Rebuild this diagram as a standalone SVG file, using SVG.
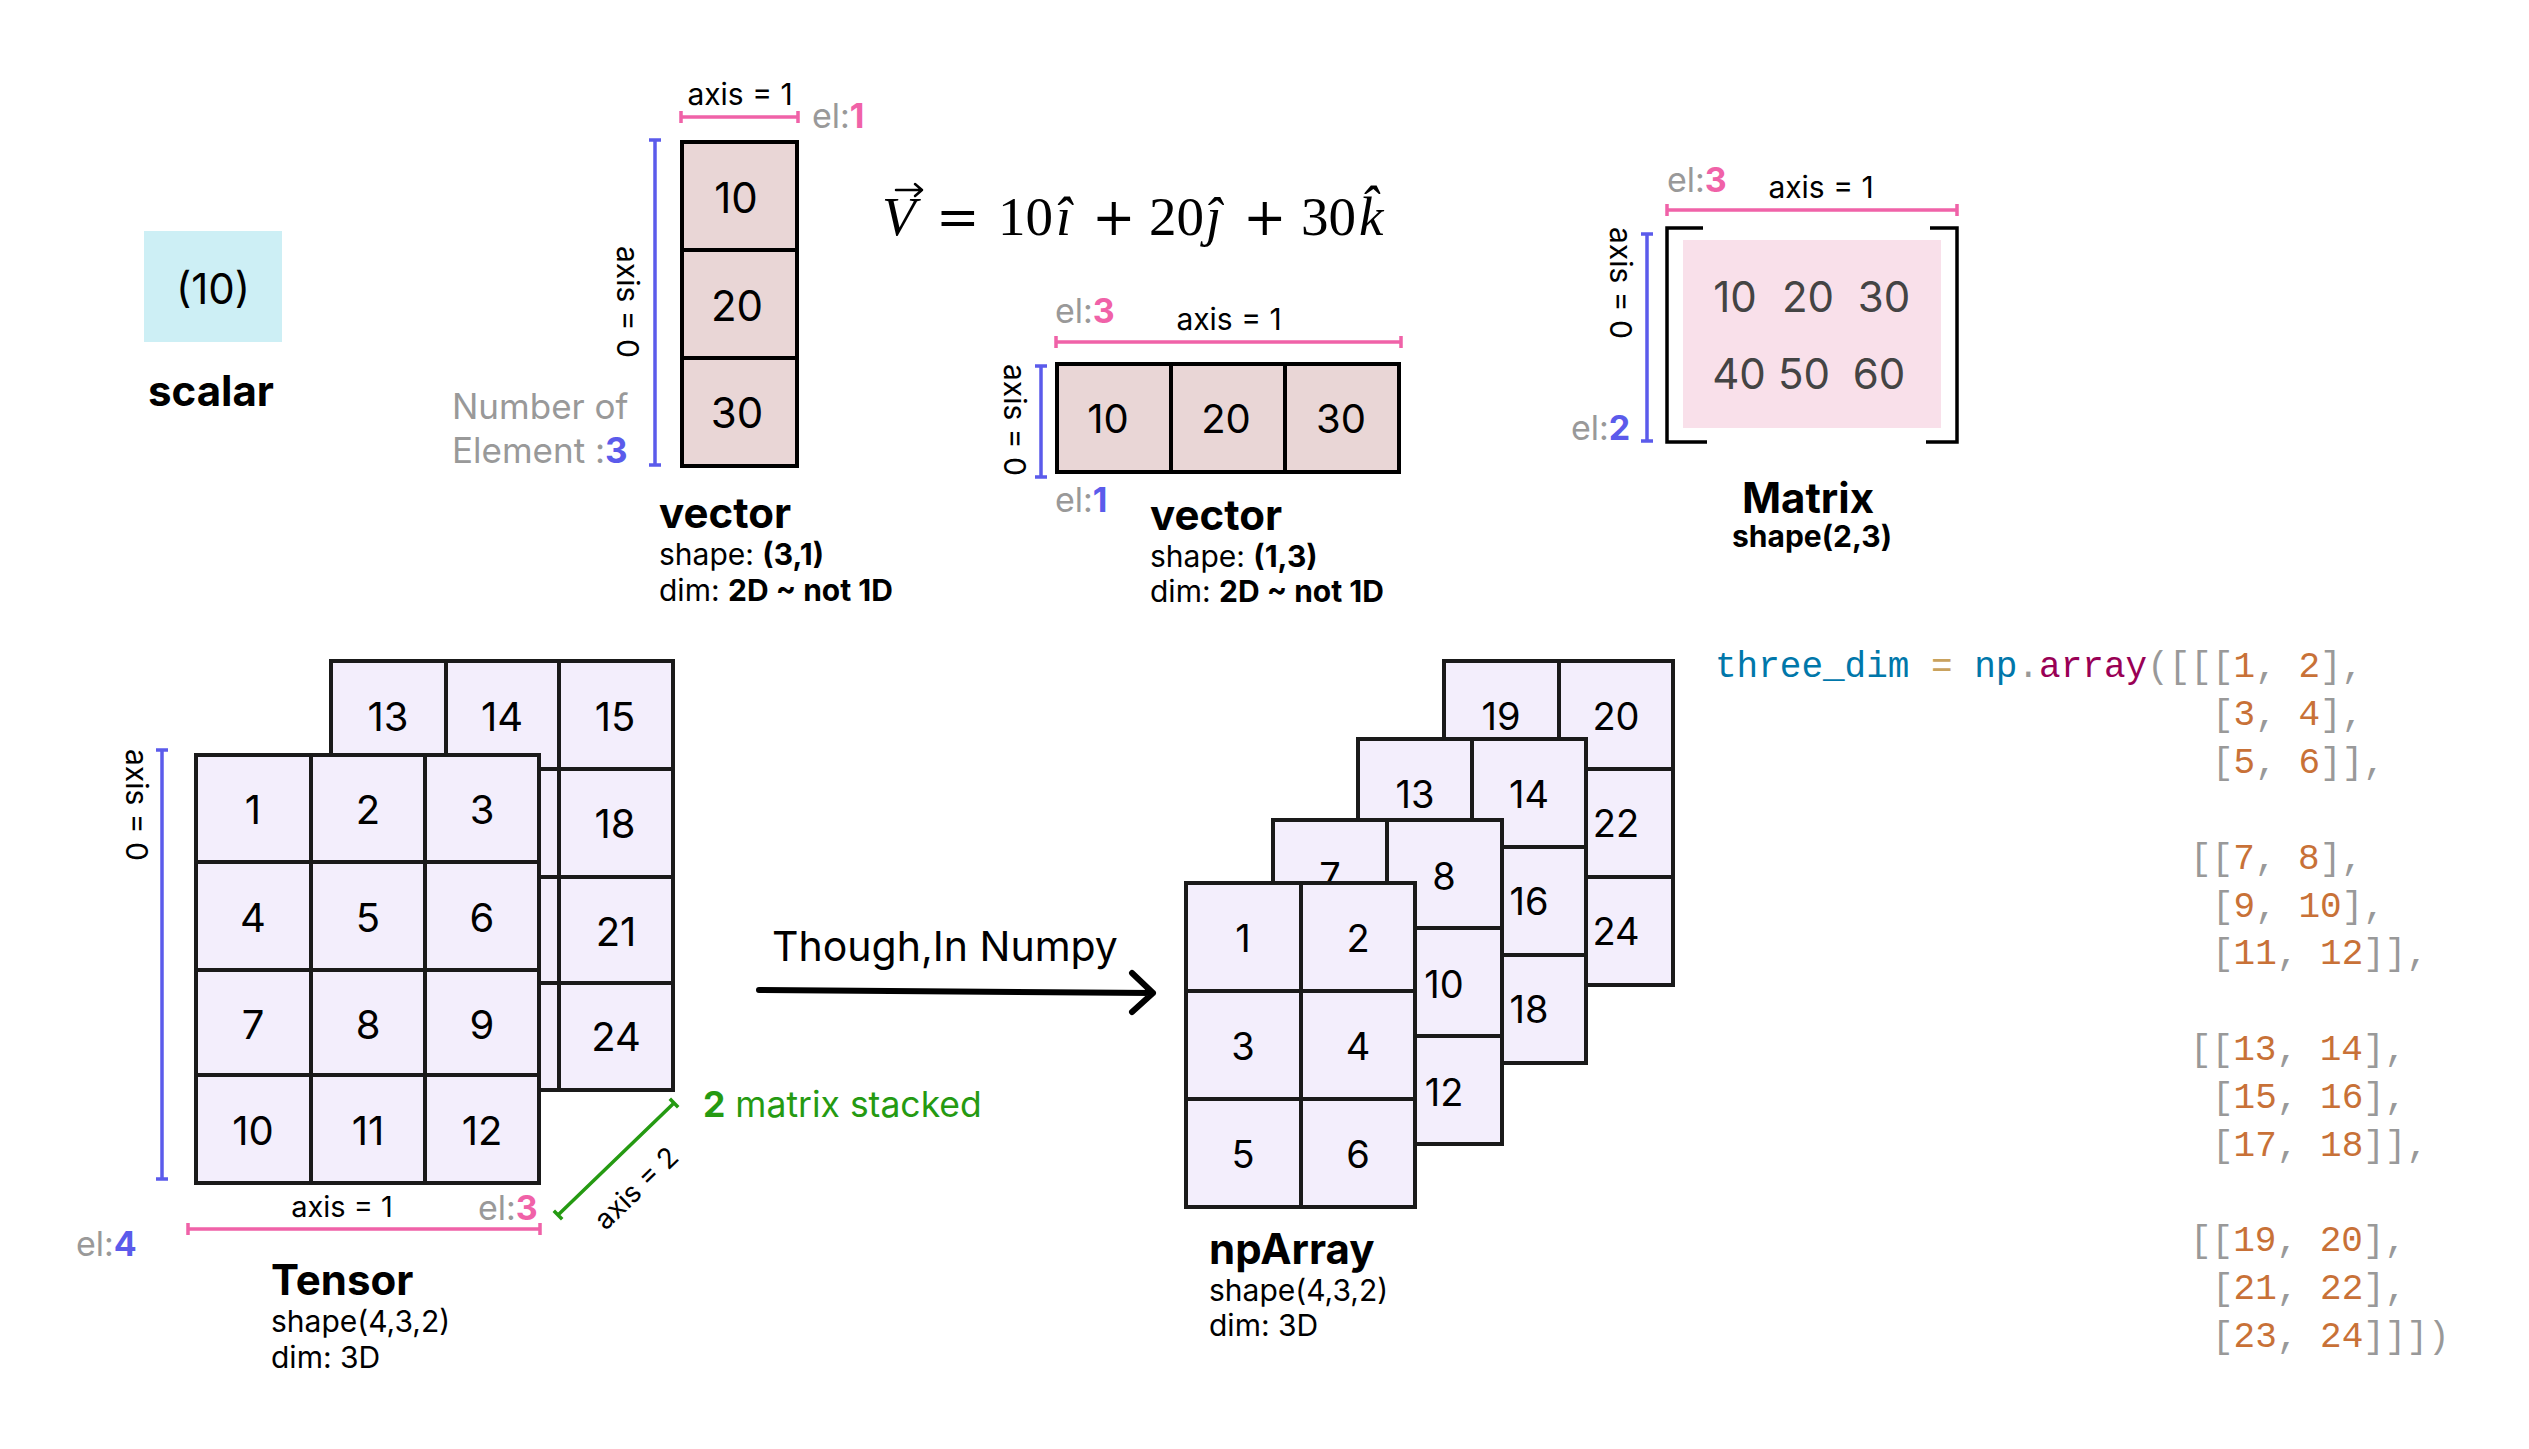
<svg xmlns="http://www.w3.org/2000/svg" width="2529" height="1449" viewBox="0 0 2529 1449">
<style>
text { font-family: Inter, "Liberation Sans", sans-serif; fill: #000; }
.b { font-weight: 700; }
.grey { fill: #999999; }
.pk { fill: #F062A8; font-weight: 700; }
.bl { fill: #5B5BEB; font-weight: 700; }
.gr { fill: #259A12; }
.mid { text-anchor: middle; }
.lbl { font-size: 30px; }
.el { font-size: 34px; }
.num { font-size: 40px; text-anchor: middle; }
.num42 { font-size: 42px; text-anchor: middle; }
.num38 { font-size: 38px; text-anchor: middle; }
.vcell { fill: #E9D6D6; stroke: #000; stroke-width: 4; }
.tcell { fill: #F3EEFC; stroke: #1a1a1a; stroke-width: 4; }
.pline { stroke: #F062A8; stroke-width: 3.5; fill: none; }
.bline { stroke: #5B5BEB; stroke-width: 3.5; fill: none; }
.gline { stroke: #259A12; stroke-width: 3.5; fill: none; }
.title { font-size: 42px; font-weight: 700; }
.sub { font-size: 30px; }
.math { font-family: "Liberation Serif", "DejaVu Serif", serif; font-size: 55px; }
.op { font-family: "DejaVu Serif", "Liberation Serif", serif; font-size: 52px; }
.it { font-style: italic; }
.code { font-family: "Liberation Mono", "DejaVu Sans Mono", monospace; font-size: 36px; fill: #999999; }
.cv { fill: #0077AA; }
.co { fill: #C9A25E; }
.cf { fill: #990055; }
.cn { fill: #C87137; }
</style>

<!-- scalar -->
<g id="scalar">
  <rect x="144" y="231" width="138" height="111" fill="#CDEFF5"/>
  <text x="213" y="304" class="mid" font-size="42">(10)</text>
  <text x="148" y="406" class="b" font-size="42">scalar</text>
</g>

<!-- vector (3,1) -->
<g id="vector-col">
  <text x="740" y="105" class="lbl mid">axis = 1</text>
  <path class="pline" d="M681,117 H798 M681,111 V123 M798,111 V123"/>
  <text x="812" y="128" class="el"><tspan class="grey">el:</tspan><tspan class="pk">1</tspan></text>
  <path class="bline" d="M655,140 V465 M649,140 H661 M649,465 H661"/>
  <text transform="translate(628,302) rotate(90)" class="lbl mid" dominant-baseline="central">axis = 0</text>
  <rect class="vcell" x="682" y="142" width="115" height="108"/>
  <rect class="vcell" x="682" y="250" width="115" height="108"/>
  <rect class="vcell" x="682" y="358" width="115" height="108"/>
  <text x="736" y="213" class="num42">10</text>
  <text x="737" y="321" class="num42">20</text>
  <text x="737" y="428" class="num42">30</text>
  <text x="452" y="419" class="grey" font-size="35">Number of</text>
  <text x="452" y="463" font-size="35"><tspan class="grey">Element :</tspan><tspan class="bl">3</tspan></text>
  <text x="659" y="528" class="title">vector</text>
  <text x="659" y="565" class="sub">shape: <tspan class="b">(3,1)</tspan></text>
  <text x="659" y="601" class="sub">dim: <tspan class="b">2D ~ not 1D</tspan></text>
</g>

<!-- formula -->
<g id="formula">
  <text x="882" y="235" class="math it">V</text>
  <path d="M896,190 H922 M915,184 L922,190 L915,196" fill="none" stroke="#000" stroke-width="2.5" stroke-linecap="round" stroke-linejoin="round"/>
  <text x="936" y="235" class="op">=</text>
  <text x="998" y="235" class="math">10</text>
  <text x="1056" y="235" class="math it">î</text>
  <text x="1092" y="235" class="op">+</text>
  <text x="1149" y="235" class="math">20</text>
  <text x="1206" y="235" class="math it">ĵ</text>
  <text x="1243" y="235" class="op">+</text>
  <text x="1301" y="235" class="math">30</text>
  <text x="1359" y="235" class="math it">k̂</text>
</g>

<!-- vector (1,3) -->
<g id="vector-row">
  <text x="1055" y="323" class="el"><tspan class="grey">el:</tspan><tspan class="pk">3</tspan></text>
  <text x="1229" y="330" class="lbl mid">axis = 1</text>
  <path class="pline" d="M1056,342 H1401 M1056,336 V348 M1401,336 V348"/>
  <path class="bline" d="M1041,366 V477 M1035,366 H1047 M1035,477 H1047"/>
  <text transform="translate(1015,420) rotate(90)" class="lbl mid" dominant-baseline="central">axis = 0</text>
  <rect class="vcell" x="1057" y="364" width="114" height="108"/>
  <rect class="vcell" x="1171" y="364" width="114" height="108"/>
  <rect class="vcell" x="1285" y="364" width="114" height="108"/>
  <text x="1108" y="433" class="num">10</text>
  <text x="1226" y="433" class="num">20</text>
  <text x="1341" y="433" class="num">30</text>
  <text x="1055" y="512" class="el"><tspan class="grey">el:</tspan><tspan class="bl">1</tspan></text>
  <text x="1150" y="530" class="title">vector</text>
  <text x="1150" y="567" class="sub">shape: <tspan class="b">(1,3)</tspan></text>
  <text x="1150" y="602" class="sub">dim: <tspan class="b">2D ~ not 1D</tspan></text>
</g>

<!-- matrix -->
<g id="matrix">
  <text x="1667" y="192" class="el"><tspan class="grey">el:</tspan><tspan class="pk">3</tspan></text>
  <text x="1821" y="198" class="lbl mid">axis = 1</text>
  <path class="pline" d="M1667,210 H1957 M1667,204 V216 M1957,204 V216"/>
  <rect x="1683" y="240" width="258" height="188" fill="#F9E0EA"/>
  <path d="M1703,228 H1667 V442 H1707 M1930,228 H1957 V442 H1926" fill="none" stroke="#000" stroke-width="3.5"/>
  <g font-size="42">
    <text x="1735" y="312" class="mid" style="fill:#444">10</text>
    <text x="1808" y="312" class="mid" style="fill:#444">20</text>
    <text x="1884" y="312" class="mid" style="fill:#444">30</text>
    <text x="1739" y="389" class="mid" style="fill:#444">40</text>
    <text x="1804" y="389" class="mid" style="fill:#444">50</text>
    <text x="1879" y="389" class="mid" style="fill:#444">60</text>
  </g>
  <path class="bline" d="M1647,234 V441 M1641,234 H1653 M1641,441 H1653"/>
  <text transform="translate(1621,283) rotate(90)" class="lbl mid" dominant-baseline="central">axis = 0</text>
  <text x="1571" y="440" class="el"><tspan class="grey">el:</tspan><tspan class="bl">2</tspan></text>
  <text x="1808" y="513" class="title mid">Matrix</text>
  <text x="1812" y="547" class="b mid" font-size="30">shape(2,3)</text>
</g>

<!-- tensor -->
<g id="tensor">
  <g id="tensor-back">
    <rect class="tcell" x="331" y="661" width="115" height="108"/>
    <rect class="tcell" x="446" y="661" width="113" height="108"/>
    <rect class="tcell" x="559" y="661" width="114" height="108"/>
    <rect class="tcell" x="331" y="769" width="115" height="108"/>
    <rect class="tcell" x="446" y="769" width="113" height="108"/>
    <rect class="tcell" x="559" y="769" width="114" height="108"/>
    <rect class="tcell" x="331" y="877" width="115" height="106"/>
    <rect class="tcell" x="446" y="877" width="113" height="106"/>
    <rect class="tcell" x="559" y="877" width="114" height="106"/>
    <rect class="tcell" x="331" y="983" width="115" height="107"/>
    <rect class="tcell" x="446" y="983" width="113" height="107"/>
    <rect class="tcell" x="559" y="983" width="114" height="107"/>
    <text x="388" y="731" class="num">13</text>
    <text x="502" y="731" class="num">14</text>
    <text x="615" y="731" class="num">15</text>
    <text x="615" y="838" class="num">18</text>
    <text x="616" y="946" class="num">21</text>
    <text x="616" y="1051" class="num">24</text>
  </g>
  <g id="tensor-front">
    <rect class="tcell" x="196" y="755" width="115" height="107"/>
    <rect class="tcell" x="311" y="755" width="114" height="107"/>
    <rect class="tcell" x="425" y="755" width="114" height="107"/>
    <rect class="tcell" x="196" y="862" width="115" height="108"/>
    <rect class="tcell" x="311" y="862" width="114" height="108"/>
    <rect class="tcell" x="425" y="862" width="114" height="108"/>
    <rect class="tcell" x="196" y="970" width="115" height="105"/>
    <rect class="tcell" x="311" y="970" width="114" height="105"/>
    <rect class="tcell" x="425" y="970" width="114" height="105"/>
    <rect class="tcell" x="196" y="1075" width="115" height="108"/>
    <rect class="tcell" x="311" y="1075" width="114" height="108"/>
    <rect class="tcell" x="425" y="1075" width="114" height="108"/>
    <text x="253" y="824" class="num">1</text>
    <text x="368" y="824" class="num">2</text>
    <text x="482" y="824" class="num">3</text>
    <text x="253" y="932" class="num">4</text>
    <text x="368" y="932" class="num">5</text>
    <text x="482" y="932" class="num">6</text>
    <text x="253" y="1039" class="num">7</text>
    <text x="368" y="1039" class="num">8</text>
    <text x="482" y="1039" class="num">9</text>
    <text x="253" y="1145" class="num">10</text>
    <text x="368" y="1145" class="num">11</text>
    <text x="482" y="1145" class="num">12</text>
  </g>
  <path class="bline" d="M162,750 V1179 M156,750 H168 M156,1179 H168"/>
  <text transform="translate(137,805) rotate(90)" class="lbl mid" dominant-baseline="central">axis = 0</text>
  <path class="pline" d="M188,1229 H540 M188,1223 V1235 M540,1223 V1235"/>
  <text x="342" y="1217" class="mid" font-size="29">axis = 1</text>
  <text x="478" y="1220" class="el"><tspan class="grey">el:</tspan><tspan class="pk">3</tspan></text>
  <text x="76" y="1256" class="el"><tspan class="grey">el:</tspan><tspan class="bl">4</tspan></text>
  <path class="gline" d="M558,1215 L674,1103 M553.8,1210.7 L562.2,1219.3 M669.8,1098.7 L678.2,1107.3"/>
  <text transform="translate(636,1188) rotate(-44)" class="mid" font-size="28" dominant-baseline="central">axis = 2</text>
  <text x="703" y="1117" font-size="35.5" class="gr"><tspan class="b gr">2</tspan> matrix stacked</text>
  <text x="271" y="1295" class="title">Tensor</text>
  <text x="271" y="1332" class="sub">shape(4,3,2)</text>
  <text x="271" y="1368" class="sub">dim: 3D</text>
</g>

<!-- connector -->
<g id="connectors">
  <text x="772" y="961" font-size="41">Though,In Numpy</text>
  <path d="M759,990 L1153,993 M1132,973 L1153,993 L1132,1012" fill="none" stroke="#000" stroke-width="6" stroke-linecap="round" stroke-linejoin="round"/>
</g>

<!-- npArray -->
<g id="nparray">
  <g id="np-layer4">
    <rect class="tcell" x="1444" y="661" width="115" height="108"/>
    <rect class="tcell" x="1559" y="661" width="114" height="108"/>
    <rect class="tcell" x="1444" y="769" width="115" height="108"/>
    <rect class="tcell" x="1559" y="769" width="114" height="108"/>
    <rect class="tcell" x="1444" y="877" width="115" height="108"/>
    <rect class="tcell" x="1559" y="877" width="114" height="108"/>
    <text x="1501" y="730" class="num38">19</text>
    <text x="1616" y="730" class="num38">20</text>
    <text x="1616" y="837" class="num38">22</text>
    <text x="1616" y="945" class="num38">24</text>
  </g>
  <g id="np-layer3">
    <rect class="tcell" x="1358" y="739" width="114" height="108"/>
    <rect class="tcell" x="1472" y="739" width="114" height="108"/>
    <rect class="tcell" x="1358" y="847" width="114" height="108"/>
    <rect class="tcell" x="1472" y="847" width="114" height="108"/>
    <rect class="tcell" x="1358" y="955" width="114" height="108"/>
    <rect class="tcell" x="1472" y="955" width="114" height="108"/>
    <text x="1415" y="808" class="num38">13</text>
    <text x="1529" y="808" class="num38">14</text>
    <text x="1529" y="915" class="num38">16</text>
    <text x="1529" y="1023" class="num38">18</text>
  </g>
  <g id="np-layer2">
    <rect class="tcell" x="1273" y="820" width="114" height="108"/>
    <rect class="tcell" x="1387" y="820" width="115" height="108"/>
    <rect class="tcell" x="1273" y="928" width="114" height="108"/>
    <rect class="tcell" x="1387" y="928" width="115" height="108"/>
    <rect class="tcell" x="1273" y="1036" width="114" height="108"/>
    <rect class="tcell" x="1387" y="1036" width="115" height="108"/>
    <text x="1330" y="890" class="num38">7</text>
    <text x="1444" y="890" class="num38">8</text>
    <text x="1444" y="998" class="num38">10</text>
    <text x="1444" y="1106" class="num38">12</text>
  </g>
  <g id="np-layer1">
    <rect class="tcell" x="1186" y="883" width="115" height="108"/>
    <rect class="tcell" x="1301" y="883" width="114" height="108"/>
    <rect class="tcell" x="1186" y="991" width="115" height="108"/>
    <rect class="tcell" x="1301" y="991" width="114" height="108"/>
    <rect class="tcell" x="1186" y="1099" width="115" height="108"/>
    <rect class="tcell" x="1301" y="1099" width="114" height="108"/>
    <text x="1243" y="952" class="num38">1</text>
    <text x="1358" y="952" class="num38">2</text>
    <text x="1243" y="1060" class="num38">3</text>
    <text x="1358" y="1060" class="num38">4</text>
    <text x="1243" y="1168" class="num38">5</text>
    <text x="1358" y="1168" class="num38">6</text>
  </g>
  <text x="1209" y="1264" class="title">npArray</text>
  <text x="1209" y="1301" class="sub">shape(4,3,2)</text>
  <text x="1209" y="1336" class="sub">dim: 3D</text>
</g>

<!-- code -->
<g id="code">
  <text x="1715" y="677" class="code"><tspan class="cv">three_dim</tspan> <tspan class="co">=</tspan> <tspan class="cv">np</tspan>.<tspan class="cf">array</tspan>([[[<tspan class="cn">1</tspan>, <tspan class="cn">2</tspan>],</text>
  <text x="2212" y="725" class="code">[<tspan class="cn">3</tspan>, <tspan class="cn">4</tspan>],</text>
  <text x="2212" y="773" class="code">[<tspan class="cn">5</tspan>, <tspan class="cn">6</tspan>]],</text>
  <text x="2190" y="869" class="code">[[<tspan class="cn">7</tspan>, <tspan class="cn">8</tspan>],</text>
  <text x="2212" y="917" class="code">[<tspan class="cn">9</tspan>, <tspan class="cn">10</tspan>],</text>
  <text x="2212" y="964" class="code">[<tspan class="cn">11</tspan>, <tspan class="cn">12</tspan>]],</text>
  <text x="2190" y="1060" class="code">[[<tspan class="cn">13</tspan>, <tspan class="cn">14</tspan>],</text>
  <text x="2212" y="1108" class="code">[<tspan class="cn">15</tspan>, <tspan class="cn">16</tspan>],</text>
  <text x="2212" y="1156" class="code">[<tspan class="cn">17</tspan>, <tspan class="cn">18</tspan>]],</text>
  <text x="2190" y="1251" class="code">[[<tspan class="cn">19</tspan>, <tspan class="cn">20</tspan>],</text>
  <text x="2212" y="1299" class="code">[<tspan class="cn">21</tspan>, <tspan class="cn">22</tspan>],</text>
  <text x="2212" y="1347" class="code">[<tspan class="cn">23</tspan>, <tspan class="cn">24</tspan>]]])</text>
</g>
</svg>
